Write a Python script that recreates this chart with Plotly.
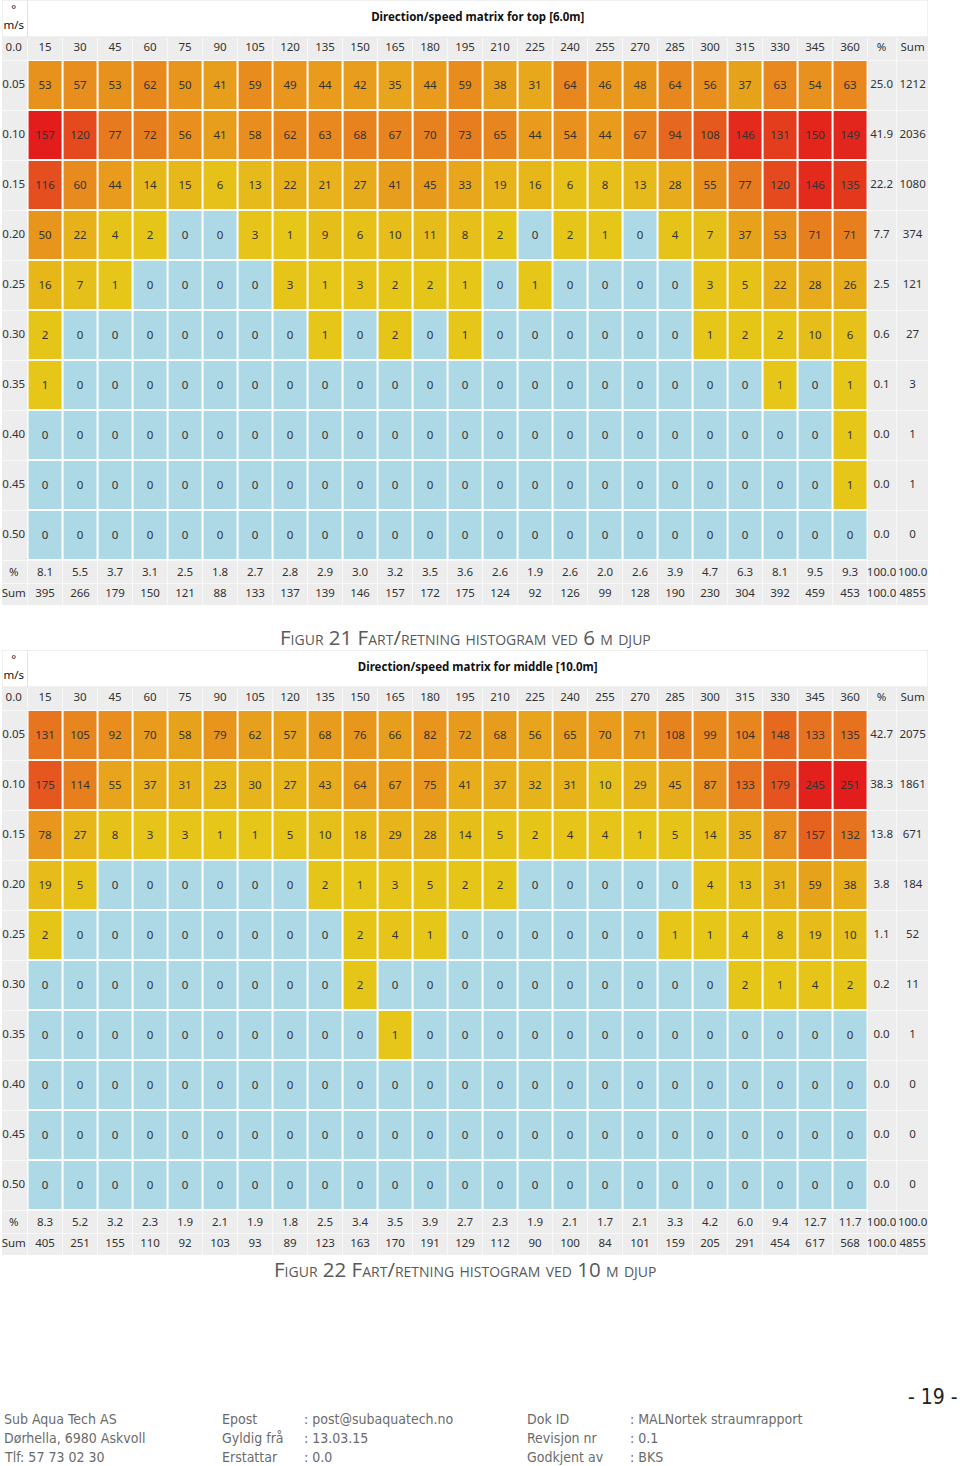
import plotly.graph_objects as go

DIRECTIONS = [15, 30, 45, 60, 75, 90, 105, 120, 135, 150, 165, 180,
              195, 210, 225, 240, 255, 270, 285, 300, 315, 330, 345, 360]
SPEEDS = [0.05, 0.10, 0.15, 0.20, 0.25, 0.30, 0.35, 0.40, 0.45, 0.50]

# Topp [6.0m]
TOP_COUNTS = [
    [53, 57, 53, 62, 50, 41, 59, 49, 44, 42, 35, 44, 59, 38, 31, 64, 46, 48, 64, 56, 37, 63, 54, 63],
    [157, 120, 77, 72, 56, 41, 58, 62, 63, 68, 67, 70, 73, 65, 44, 54, 44, 67, 94, 108, 146, 131, 150, 149],
    [116, 60, 44, 14, 15, 6, 13, 22, 21, 27, 41, 45, 33, 19, 16, 6, 8, 13, 28, 55, 77, 120, 146, 135],
    [50, 22, 4, 2, 0, 0, 3, 1, 9, 6, 10, 11, 8, 2, 0, 2, 1, 0, 4, 7, 37, 53, 71, 71],
    [16, 7, 1, 0, 0, 0, 0, 3, 1, 3, 2, 2, 1, 0, 1, 0, 0, 0, 0, 3, 5, 22, 28, 26],
    [2, 0, 0, 0, 0, 0, 0, 0, 1, 0, 2, 0, 1, 0, 0, 0, 0, 0, 0, 1, 2, 2, 10, 6],
    [1, 0, 0, 0, 0, 0, 0, 0, 0, 0, 0, 0, 0, 0, 0, 0, 0, 0, 0, 0, 0, 1, 0, 1],
    [0, 0, 0, 0, 0, 0, 0, 0, 0, 0, 0, 0, 0, 0, 0, 0, 0, 0, 0, 0, 0, 0, 0, 1],
    [0, 0, 0, 0, 0, 0, 0, 0, 0, 0, 0, 0, 0, 0, 0, 0, 0, 0, 0, 0, 0, 0, 0, 1],
    [0, 0, 0, 0, 0, 0, 0, 0, 0, 0, 0, 0, 0, 0, 0, 0, 0, 0, 0, 0, 0, 0, 0, 0],
]
TOP_ROW_PCT = [25.0, 41.9, 22.2, 7.7, 2.5, 0.6, 0.1, 0.0, 0.0, 0.0]
TOP_ROW_SUM = [1212, 2036, 1080, 374, 121, 27, 3, 1, 1, 0]
TOP_COL_PCT = [8.1, 5.5, 3.7, 3.1, 2.5, 1.8, 2.7, 2.8, 2.9, 3.0, 3.2, 3.5,
               3.6, 2.6, 1.9, 2.6, 2.0, 2.6, 3.9, 4.7, 6.3, 8.1, 9.5, 9.3]
TOP_COL_SUM = [395, 266, 179, 150, 121, 88, 133, 137, 139, 146, 157, 172,
               175, 124, 92, 126, 99, 128, 190, 230, 304, 392, 459, 453]
TOP_TOTAL_PCT = ["100.0", "100.0"]
TOP_TOTAL_SUM = ["100.0", "4855"]

# Midt [10.0m]
MID_COUNTS = [
    [131, 105, 92, 70, 58, 79, 62, 57, 68, 76, 66, 82, 72, 68, 56, 65, 70, 71, 108, 99, 104, 148, 133, 135],
    [175, 114, 55, 37, 31, 23, 30, 27, 43, 64, 67, 75, 41, 37, 32, 31, 10, 29, 45, 87, 133, 179, 245, 251],
    [78, 27, 8, 3, 3, 1, 1, 5, 10, 18, 29, 28, 14, 5, 2, 4, 4, 1, 5, 14, 35, 87, 157, 132],
    [19, 5, 0, 0, 0, 0, 0, 0, 2, 1, 3, 5, 2, 2, 0, 0, 0, 0, 0, 4, 13, 31, 59, 38],
    [2, 0, 0, 0, 0, 0, 0, 0, 0, 2, 4, 1, 0, 0, 0, 0, 0, 0, 1, 1, 4, 8, 19, 10],
    [0, 0, 0, 0, 0, 0, 0, 0, 0, 2, 0, 0, 0, 0, 0, 0, 0, 0, 0, 0, 2, 1, 4, 2],
    [0, 0, 0, 0, 0, 0, 0, 0, 0, 0, 1, 0, 0, 0, 0, 0, 0, 0, 0, 0, 0, 0, 0, 0],
    [0, 0, 0, 0, 0, 0, 0, 0, 0, 0, 0, 0, 0, 0, 0, 0, 0, 0, 0, 0, 0, 0, 0, 0],
    [0, 0, 0, 0, 0, 0, 0, 0, 0, 0, 0, 0, 0, 0, 0, 0, 0, 0, 0, 0, 0, 0, 0, 0],
    [0, 0, 0, 0, 0, 0, 0, 0, 0, 0, 0, 0, 0, 0, 0, 0, 0, 0, 0, 0, 0, 0, 0, 0],
]
MID_ROW_PCT = [42.7, 38.3, 13.8, 3.8, 1.1, 0.2, 0.0, 0.0, 0.0, 0.0]
MID_ROW_SUM = [2075, 1861, 671, 184, 52, 11, 1, 0, 0, 0]
MID_COL_PCT = [8.3, 5.2, 3.2, 2.3, 1.9, 2.1, 1.9, 1.8, 2.5, 3.4, 3.5, 3.9,
               2.7, 2.3, 1.9, 2.1, 1.7, 2.1, 3.3, 4.2, 6.0, 9.4, 12.7, 11.7]
MID_COL_SUM = [405, 251, 155, 110, 92, 103, 93, 89, 123, 163, 170, 191,
               129, 112, 90, 100, 84, 101, 159, 205, 291, 454, 617, 568]
MID_TOTAL_PCT = ["100.0", "100.0"]
MID_TOTAL_SUM = ["100.0", "4855"]

BLUE = "#ADD8E6"
GREY = "#EDEDED"
FONT = "Noto Sans, Open Sans, sans-serif"
TXT = "#333333"
FS = 11.5

# tabellgeometri i akse-einingar (1 px ~ 15/35 grader, 1 px ~ 0.001 m/s)
X_MIN, X_MAX = -3.43, 393.4
LABEL_X, PCT_X, SUM_X = 1.6, 373.5, 386.8
Y_TOP, Y_BOT = -0.035, 0.570
TITLE_Y, HEAD_Y, PCT_Y, SUM_Y = -0.017, 0.013, 0.538, 0.559


def fargeskala(zmax):
    eps = 0.5 / zmax
    return [[0, BLUE], [eps, BLUE], [eps, "#E6C619"], [0.35, "#E8901E"],
            [0.7, "#E5571F"], [1, "#E31C1C"]]


def legg_til_tabell(fig, n, tittel, counts, row_pct, row_sum, col_pct, col_sum,
                    tot_pct, tot_sum, domain):
    xa, ya = ("x", "y") if n == 1 else (f"x{n}", f"y{n}")
    zmax = max(max(r) for r in counts)

    fig.add_trace(go.Heatmap(
        z=counts, x=DIRECTIONS, y=SPEEDS, xaxis=xa, yaxis=ya,
        colorscale=fargeskala(zmax), zmin=0, zmax=zmax, showscale=False,
        xgap=2, ygap=2, texttemplate="%{z}", hoverinfo="skip",
        textfont=dict(family=FONT, size=FS, color=TXT)))

    # rad- og kolonneoverskrifter, prosent og sum
    xs = [LABEL_X] + DIRECTIONS + [PCT_X, SUM_X]
    head = ["0.0"] + [str(d) for d in DIRECTIONS] + ["%", "Sum"]
    pct_row = ["%"] + [f"{v:.1f}" for v in col_pct] + tot_pct
    sum_row = ["Sum"] + [str(v) for v in col_sum] + tot_sum
    fig.add_trace(go.Scatter(
        x=xs * 3, y=[HEAD_Y] * len(xs) + [PCT_Y] * len(xs) + [SUM_Y] * len(xs),
        text=head + pct_row + sum_row, mode="text", xaxis=xa, yaxis=ya, cliponaxis=False,
        textfont=dict(family=FONT, size=FS, color=TXT), hoverinfo="skip"))
    fig.add_trace(go.Scatter(
        x=[LABEL_X] * len(SPEEDS) + [PCT_X] * len(SPEEDS) + [SUM_X] * len(SPEEDS),
        y=SPEEDS * 3,
        text=[f"{s:.2f}" for s in SPEEDS] + [f"{v:.1f}" for v in row_pct] + [str(v) for v in row_sum],
        mode="text", xaxis=xa, yaxis=ya, cliponaxis=False,
        textfont=dict(family=FONT, size=FS, color=TXT), hoverinfo="skip"))
    fig.add_trace(go.Scatter(
        x=[LABEL_X, LABEL_X, (7.5 + X_MAX) / 2], y=[-0.025, -0.009, TITLE_Y],
        text=["°", "m/s", f"<b>{tittel}</b>"], mode="text", xaxis=xa, yaxis=ya,
        cliponaxis=False, textfont=dict(family=FONT, size=FS, color="#111111"),
        hoverinfo="skip"))

    xb = [d - 7.5 for d in DIRECTIONS] + [367.5, 380.1]
    yb = [0.002] + [s - 0.025 for s in SPEEDS] + [0.525, 0.548]
    fig.update_layout({
        f"xaxis{'' if n == 1 else n}": dict(
            domain=[2 / 960, 928 / 960], range=[X_MIN, X_MAX], anchor=ya,
            tickvals=xb, showticklabels=False, ticks="", showgrid=True,
            gridcolor="#F8F8F8", gridwidth=1, zeroline=False, fixedrange=True),
        f"yaxis{'' if n == 1 else n}": dict(
            domain=domain, range=[Y_BOT, Y_TOP], anchor=xa,
            tickvals=yb, showticklabels=False, ticks="", showgrid=True,
            gridcolor="#F8F8F8", gridwidth=1, zeroline=False, fixedrange=True),
    })
    # kvit tittelrad og kvit botn under fargeceller
    fig.add_shape(type="rect", xref=xa, yref=ya, x0=X_MIN, x1=X_MAX, y0=Y_TOP, y1=0.002,
                  fillcolor="white", line=dict(color="#E2E2E2", width=1), layer="between")
    fig.add_shape(type="line", xref=xa, yref=ya, x0=7.5, x1=7.5, y0=Y_TOP, y1=0.002,
                  line=dict(color="#E2E2E2", width=1), layer="between")
    fig.add_shape(type="rect", xref=xa, yref=ya, x0=7.5, x1=367.5, y0=0.025, y1=0.525,
                  fillcolor="white", line=dict(width=0), layer="between")


fig = go.Figure()
legg_til_tabell(fig, 1, "Direction/speed matrix for top [6.0m]", TOP_COUNTS,
                TOP_ROW_PCT, TOP_ROW_SUM, TOP_COL_PCT, TOP_COL_SUM,
                TOP_TOTAL_PCT, TOP_TOTAL_SUM, [1 - 605 / 1466, 1.0])
legg_til_tabell(fig, 2, "Direction/speed matrix for middle [10.0m]", MID_COUNTS,
                MID_ROW_PCT, MID_ROW_SUM, MID_COL_PCT, MID_COL_SUM,
                MID_TOTAL_PCT, MID_TOTAL_SUM, [1 - 1255 / 1466, 1 - 650 / 1466])


def ytop(px):
    return 1 - px / 1466


CAP = dict(family="Open Sans, Noto Sans, sans-serif", size=20.5, color="#595959", variant="small-caps")
annotations = [
    dict(text="Figur 21 Fart/retning histogram ved 6 m djup", x=465 / 960, y=ytop(637), font=CAP),
    dict(text="Figur 22 Fart/retning histogram ved 10 m djup", x=465 / 960, y=ytop(1269), font=CAP),
    dict(text="- 19 -", x=1.0, y=ytop(1397), xanchor="right",
         font=dict(family="Liberation Sans Narrow, DejaVu Sans Condensed, sans-serif", size=21, color="#222222")),
]
FOOT = dict(family="Liberation Sans Narrow, DejaVu Sans Condensed, sans-serif", size=14, color="#6b6b6b")
footer = [
    (2, ["Sub Aqua Tech AS", "Dørhella, 6980 Askvoll", "Tlf: 57 73 02 30"]),
    (220, ["Epost", "Gyldig frå", "Erstattar"]),
    (302, [": post@subaquatech.no", ": 13.03.15", ": 0.0"]),
    (525, ["Dok ID", "Revisjon nr", "Godkjent av"]),
    (628, [": MALNortek straumrapport", ": 0.1", ": BKS"]),
]
for xpx, lines in footer:
    for i, t in enumerate(lines):
        annotations.append(dict(text=t, x=xpx / 960, y=ytop(1419 + 19 * i),
                                xanchor="left", font=FOOT))
for a in annotations:
    a.update(xref="paper", yref="paper", showarrow=False)
    a.setdefault("xanchor", "center")
    a.setdefault("yanchor", "middle")

fig.update_layout(
    width=960, height=1466, margin=dict(l=0, r=0, t=0, b=0),
    paper_bgcolor="white", plot_bgcolor=GREY, showlegend=False,
    annotations=annotations,
)
fig.write_html("out.html", config={"displayModeBar": False},
               post_script="document.body.style.margin = '0';")
